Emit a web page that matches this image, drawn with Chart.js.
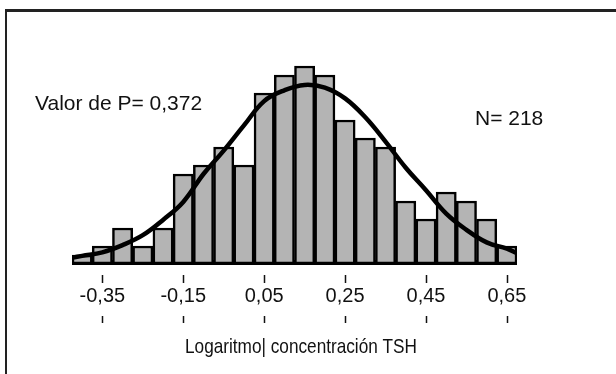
<!DOCTYPE html>
<html>
<head>
<meta charset="utf-8">
<script src="https://cdn.jsdelivr.net/npm/chart.js@4/dist/chart.umd.min.js"></script>
<style>
  html, body { margin: 0; padding: 0; background: #fff; }
  #wrap { position: relative; width: 616px; height: 374px; overflow: hidden; }
  #frame { position: absolute; left: 5px; top: 9px; right: -10px; bottom: -10px;
           border-top: 3px solid #222; border-left: 2px solid #222; }
  canvas { position: absolute; left: 0; top: 0; }
</style>
</head>
<body>
<div id="wrap">
  <div id="frame"></div>
  <canvas id="histo" width="616" height="374"></canvas>
</div>
<script>
// histogram bins (log TSH), width 0.05
const binCenters = [-0.40, -0.35, -0.30, -0.25, -0.20, -0.15, -0.10, -0.05, 0.00, 0.05, 0.10,
                    0.15, 0.20, 0.25, 0.30, 0.35, 0.40, 0.45, 0.50, 0.55, 0.60, 0.65];
const counts = [1, 2, 4, 2, 4, 10, 11, 13, 11, 19, 21, 22, 21, 16, 14, 13, 7, 5, 8, 7, 5, 2];

// fitted normal curve, read per bin
const curveX = [-0.425, -0.40, -0.35, -0.30, -0.25, -0.20, -0.15, -0.10, -0.05, 0.00, 0.05, 0.10,
                0.15, 0.20, 0.25, 0.30, 0.35, 0.40, 0.45, 0.50, 0.55, 0.60, 0.65, 0.675];
const curveY = [0.7, 0.9, 1.3, 2.1, 3.2, 4.9, 6.9, 10.0, 12.6, 15.4, 18.1, 19.3,
                19.9, 19.6, 18.4, 16.3, 13.6, 10.7, 8.2, 5.6, 3.8, 2.4, 1.7, 1.2];

const tickValues = [-0.35, -0.15, 0.05, 0.25, 0.45, 0.65];
const tickLabels = ['-0,35', '-0,15', '0,05', '0,25', '0,45', '0,65'];
const axisTitle = 'Logaritmo| concentración TSH';

const FONT = "'Liberation Sans', Arial, sans-serif";

// baseline, tick marks, axis title and the two notes
const extras = {
  id: 'extras',
  beforeDatasetsDraw(chart) {
    const { ctx, chartArea, scales } = chart;
    const y0 = scales.y.getPixelForValue(0);
    ctx.save();
    ctx.fillStyle = '#000';
    ctx.fillRect(chartArea.left, y0 - 4, chartArea.right - chartArea.left, 5);
    ctx.restore();
  },
  afterDraw(chart) {
    const { ctx, scales } = chart;
    ctx.save();
    ctx.strokeStyle = '#111';
    ctx.lineWidth = 1.5;
    tickValues.forEach(v => {
      const x = Math.round(scales.x.getPixelForValue(v)) + 0.5;
      ctx.beginPath();
      ctx.moveTo(x, 275); ctx.lineTo(x, 283);
      ctx.moveTo(x, 316); ctx.lineTo(x, 323);
      ctx.stroke();
    });
    ctx.fillStyle = '#111';
    ctx.font = '21px ' + FONT;
    ctx.textBaseline = 'alphabetic';
    ctx.fillText('Valor de P= 0,372', 35, 110);
    ctx.fillText('N= 218', 475, 125);

    // narrow axis title, centred under the ticks
    const w = ctx.measureText(axisTitle).width;
    const sx = 232 / w;
    ctx.translate(301, 353);
    ctx.scale(sx, 1);
    ctx.textAlign = 'center';
    ctx.fillText(axisTitle, 0, 0);
    ctx.restore();
  }
};

new Chart(document.getElementById('histo'), {
  data: {
    datasets: [
      {
        type: 'line',
        data: curveX.map((x, i) => ({ x, y: curveY[i] })),
        borderColor: '#000',
        borderWidth: 4.5,
        tension: 0.4,
        pointRadius: 0,
        fill: false,
        order: 0
      },
      {
        type: 'bar',
        data: binCenters.map((x, i) => ({ x, y: counts[i] })),
        backgroundColor: '#b4b4b4',
        borderColor: '#000',
        borderWidth: 2.5,
        borderSkipped: false,
        barPercentage: 1,
        categoryPercentage: 1,
        order: 1
      }
    ]
  },
  options: {
    responsive: false,
    animation: false,
    layout: { padding: { left: 72, right: 99, top: 48, bottom: 0 } },
    plugins: { legend: { display: false }, tooltip: { enabled: false } },
    scales: {
      x: {
        type: 'linear',
        min: -0.425,
        max: 0.675,
        offset: false,
        border: { display: false },
        grid: { display: false, drawTicks: false },
        afterBuildTicks: s => { s.ticks = tickValues.map(v => ({ value: v })); },
        afterFit: s => { s.height = 110; },
        ticks: {
          autoSkip: false,
          maxRotation: 0,
          padding: 20,
          color: '#111',
          font: { family: FONT, size: 20 },
          callback: (v, i) => tickLabels[i]
        },
        title: { display: false }
      },
      y: {
        display: false,
        min: 0,
        max: 24
      }
    }
  },
  plugins: [extras]
});
</script>
</body>
</html>
